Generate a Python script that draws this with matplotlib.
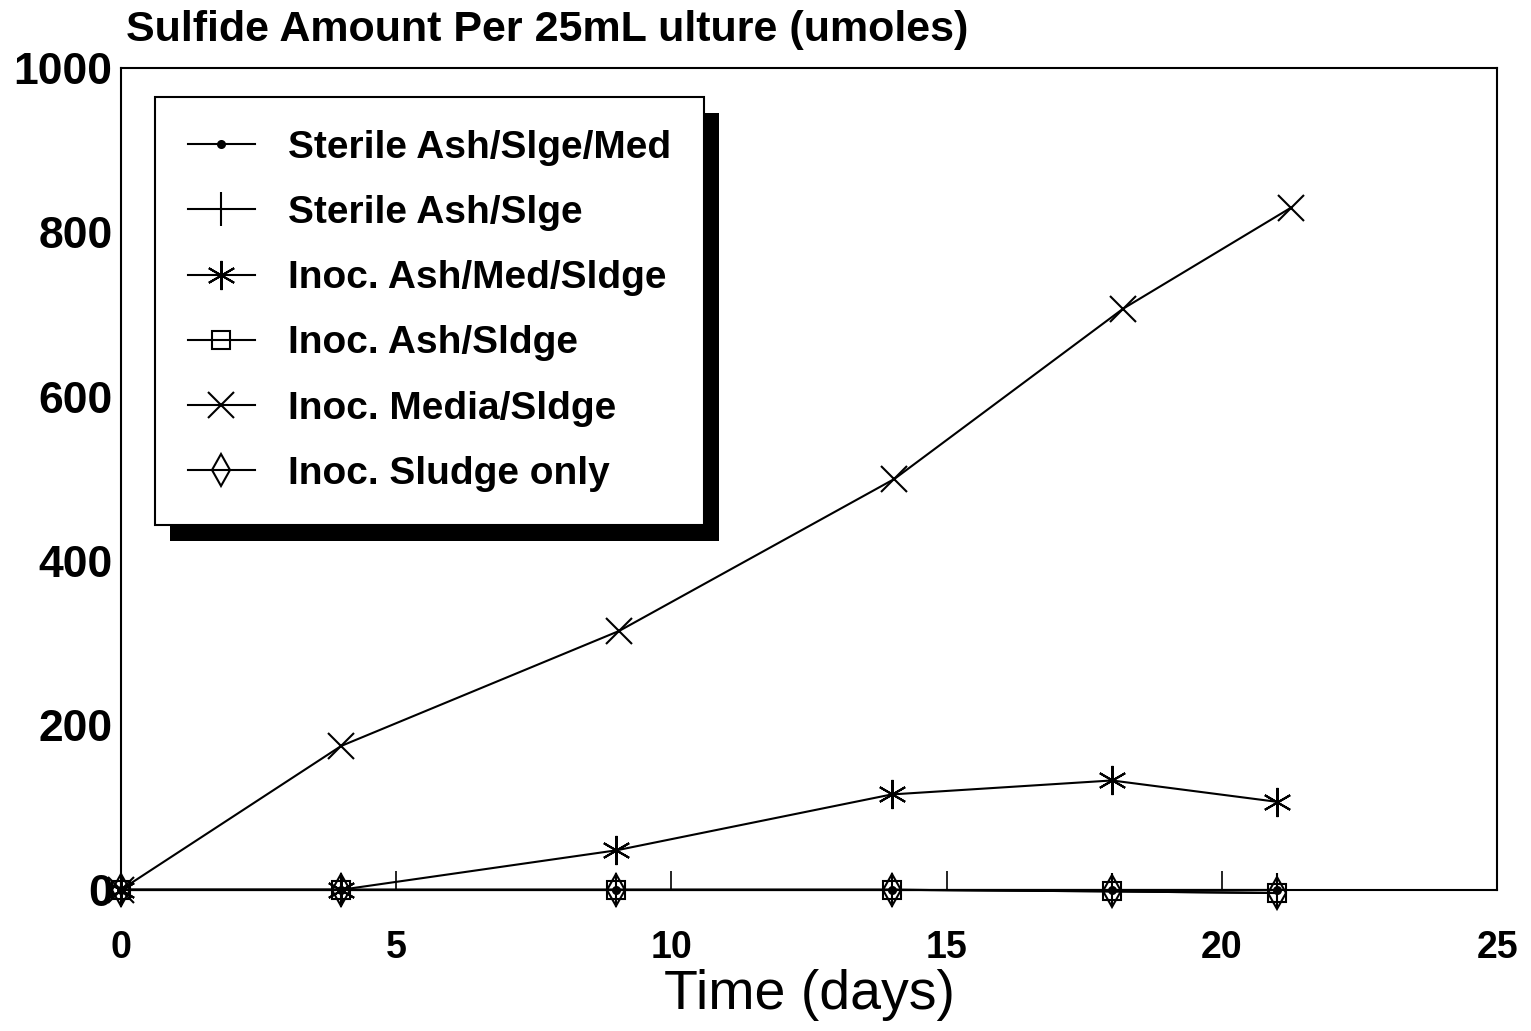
import matplotlib
matplotlib.use("Agg")
import matplotlib.pyplot as plt
from matplotlib.patches import Rectangle

plt.rcParams['font.family'] = ['Liberation Sans', 'DejaVu Sans']

days = [0, 4, 9, 14, 18, 21]
days_media = [0, 4, 9.05, 14.05, 18.2, 21.25]

sterile_ash_slge_med = [0, 0, 0, 0, 0, 0]
sterile_ash_slge = [0, 0, 0, 0, 0, 0]
inoc_ash_med_sldge = [0, 0, 48, 116, 133, 107]
inoc_ash_sldge = [0, 0, 0, 0, -2, -4]
inoc_media_sldge = [0, 175, 315, 500, 707, 830]
inoc_sludge_only = [0, 0, 0, 0, -2, -4]

labels = ["Sterile Ash/Slge/Med", "Sterile Ash/Slge", "Inoc. Ash/Med/Sldge",
          "Inoc. Ash/Sldge", "Inoc. Media/Sldge", "Inoc. Sludge only"]

fig = plt.figure(figsize=(15.31, 10.31), dpi=100)
ax = fig.add_axes([0.079, 0.137, 0.899, 0.797])

lw = 1.5
common = dict(color="black", lw=lw, clip_on=False, mew=1.5)
ax.plot(days, sterile_ash_slge_med, marker=".", ms=10, label=labels[0], **common)
ax.plot(days, sterile_ash_slge, marker="|", ms=24, label=labels[1], **common)
ax.plot(days, inoc_ash_med_sldge, marker=(6, 2, 0), ms=21, label=labels[2], **common)
ax.plot(days, inoc_ash_sldge, marker="s", ms=13, mfc="none", label=labels[3], **common)
ax.plot(days_media, inoc_media_sldge, marker="x", ms=19, label=labels[4], **common)
ax.plot(days, inoc_sludge_only, marker="d", ms=16, mfc="none", label=labels[5], **common)

ax.set_xlim(0, 25)
ax.set_ylim(0, 1000)
ax.set_xticks([0, 5, 10, 15, 20, 25])
ax.set_yticks([0, 200, 400, 600, 800, 1000])
ax.tick_params(axis="x", direction="in", length=14, width=1.2, pad=29, labelsize=27)
ax.tick_params(axis="y", direction="in", length=0, pad=6, labelsize=32)
for lab in ax.get_xticklabels() + ax.get_yticklabels():
    lab.set_fontweight("bold")
for sp in ax.spines.values():
    sp.set_linewidth(1.5)

ax.set_xlabel("Time (days)", fontsize=40, labelpad=2)

fig.text(0.082, 0.990, "Sulfide Amount Per 25mL ulture (umoles)", fontsize=31,
         fontweight="bold", ha="left", va="top")

leg = ax.legend(loc="upper left", bbox_to_anchor=(0.025, 0.965), borderaxespad=0,
                fancybox=False, framealpha=1, edgecolor="black",
                prop={"size": 28, "weight": "bold"},
                handlelength=1.7, labelspacing=0.75, borderpad=0.85, handletextpad=0.85)
leg.get_frame().set_linewidth(1.5)
leg.set_zorder(5)

fig.canvas.draw()
bb = leg.get_window_extent().transformed(fig.transFigure.inverted())
dx, dy = 15 / 1531, 16 / 1031
shadow = Rectangle((bb.x0 + dx, bb.y0 - dy), bb.width, bb.height, transform=fig.transFigure,
                   facecolor="black", edgecolor="none", zorder=4)
ax.add_artist(shadow)

fig.savefig("out.png", dpi=100)
